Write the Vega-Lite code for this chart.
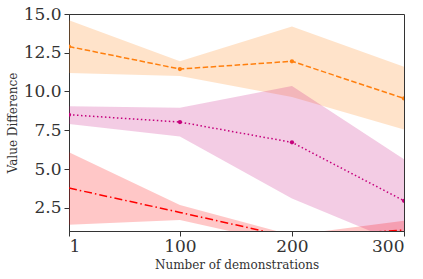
{
  "$schema": "https://vega.github.io/schema/vega-lite/v6.json",
  "width": 335,
  "height": 217,
  "autosize": {"type": "none"},
  "padding": {"left": 69, "top": 14, "right": 19, "bottom": 48},
  "background": "white",
  "config": {
    "view": {"stroke": "#333333", "strokeWidth": 1},
    "font": "DejaVu Serif"
  },
  "data": {
    "values": [
      {"series": "A", "n": 1, "mean": 12.9, "lo": 11.2, "hi": 14.6},
      {"series": "A", "n": 100, "mean": 11.45, "lo": 11.0, "hi": 11.95},
      {"series": "A", "n": 200, "mean": 11.95, "lo": 9.65, "hi": 14.2},
      {"series": "A", "n": 300, "mean": 9.55, "lo": 7.55, "hi": 11.6},
      {"series": "B", "n": 1, "mean": 8.5, "lo": 7.9, "hi": 9.05},
      {"series": "B", "n": 100, "mean": 8.03, "lo": 7.1, "hi": 8.95},
      {"series": "B", "n": 200, "mean": 6.72, "lo": 3.1, "hi": 10.35},
      {"series": "B", "n": 300, "mean": 2.95, "lo": 0.1, "hi": 5.63},
      {"series": "C", "n": 1, "mean": 3.77, "lo": 1.41, "hi": 6.08},
      {"series": "C", "n": 100, "mean": 2.2, "lo": 1.71, "hi": 2.68},
      {"series": "C", "n": 200, "mean": 0.58, "lo": 0.1, "hi": 0.73},
      {"series": "C", "n": 300, "mean": 1.06, "lo": 0.3, "hi": 1.66}
    ]
  },
  "encoding": {
    "x": {
      "field": "n", "type": "quantitative",
      "scale": {"domain": [1, 300], "nice": false, "zero": false},
      "axis": {"values": [1, 100, 200, 300], "title": "Number of demonstrations", "labelPadding": 2, "titlePadding": 5,
        "grid": false, "domainColor": "#333333", "tickColor": "#333333", "tickSize": 5,
        "labelFont": "DejaVu Serif", "labelFontSize": 17, "labelColor": "#333333",
        "titleFont": "DejaVu Serif", "titleFontSize": 12, "titleFontWeight": "normal", "titleColor": "#333333"}
    }
  },
  "layer": [
    {
      "mark": {"type": "area", "clip": true, "opacity": 0.22},
      "encoding": {
        "y": {"field": "hi", "type": "quantitative",
          "scale": {"domain": [1, 15], "nice": false, "zero": false},
          "axis": {"values": [2.5, 5, 7.5, 10, 12.5, 15], "format": ".1f", "title": "Value Difference", "labelPadding": 3, "titlePadding": 4,
            "grid": false, "domainColor": "#333333", "tickColor": "#333333", "tickSize": 5,
            "labelFont": "DejaVu Serif", "labelFontSize": 17, "labelColor": "#333333",
            "titleFont": "DejaVu Serif", "titleFontSize": 12, "titleFontWeight": "normal", "titleColor": "#333333"}},
        "y2": {"field": "lo"},
        "color": {"field": "series", "type": "nominal",
          "scale": {"domain": ["A", "B", "C"], "range": ["#ff7f0e", "#c71585", "#ff0000"]},
          "legend": null}
      }
    },
    {
      "transform": [{"filter": "datum.series === 'A'"}],
      "mark": {"type": "line", "clip": true, "color": "#ff7f0e", "strokeWidth": 1.5, "strokeDash": [5.5, 2.5], "point": {"filled": true, "size": 18, "color": "#ff7f0e"}},
      "encoding": {"y": {"field": "mean", "type": "quantitative"}}
    },
    {
      "transform": [{"filter": "datum.series === 'B'"}],
      "mark": {"type": "line", "clip": true, "color": "#c5007c", "strokeWidth": 1.5, "strokeDash": [1.5, 2.5], "point": {"filled": true, "size": 18, "color": "#c5007c"}},
      "encoding": {"y": {"field": "mean", "type": "quantitative"}}
    },
    {
      "transform": [{"filter": "datum.series === 'C'"}],
      "mark": {"type": "line", "clip": true, "color": "#ff0000", "strokeWidth": 1.5, "strokeDash": [8, 3, 1.5, 3]},
      "encoding": {"y": {"field": "mean", "type": "quantitative"}}
    }
  ]
}
